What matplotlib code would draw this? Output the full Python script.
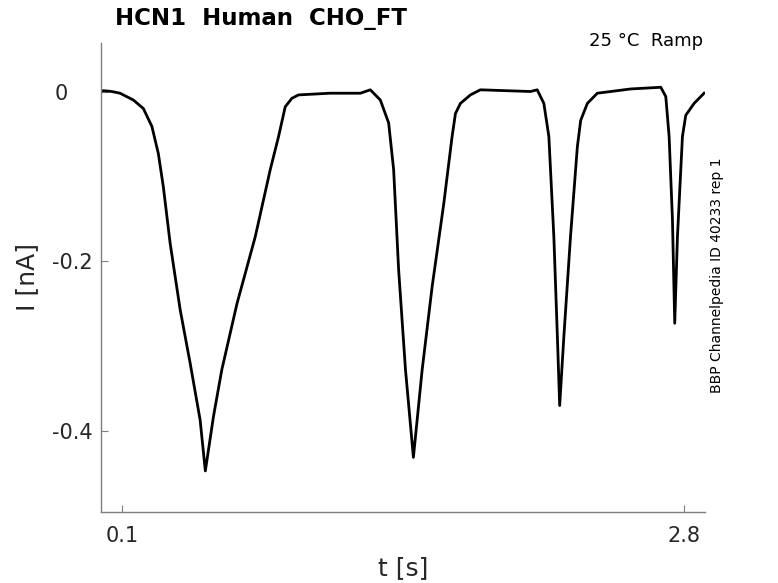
import matplotlib
matplotlib.use("Agg")
import matplotlib.pyplot as plt
from matplotlib.transforms import ScaledTranslation

# Key points of the recorded current trace (time in s, current in nA)
t_s = [0.00, 0.01, 0.05, 0.09, 0.154, 0.202, 0.243, 0.274, 0.298, 0.331, 0.379, 0.427,
       0.475, 0.500, 0.539, 0.579, 0.652, 0.740, 0.812, 0.852, 0.884, 0.916, 0.948,
       1.10, 1.245, 1.293, 1.341, 1.381, 1.405, 1.429, 1.462, 1.500, 1.542, 1.590,
       1.646, 1.686, 1.702, 1.726, 1.774, 1.822, 2.063, 2.095, 2.127, 2.151, 2.175,
       2.192, 2.203, 2.223, 2.255, 2.288, 2.304, 2.336, 2.384, 2.544, 2.689, 2.713,
       2.729, 2.745, 2.756, 2.769, 2.793, 2.809, 2.849, 2.897]
i_nA = [0.000, 0.001, 0.000, -0.002, -0.010, -0.020, -0.041, -0.073, -0.112, -0.179,
        -0.257, -0.320, -0.387, -0.447, -0.383, -0.328, -0.250, -0.171, -0.092, -0.053,
        -0.018, -0.008, -0.004, -0.002, -0.002, 0.002, -0.010, -0.037, -0.092, -0.210,
        -0.328, -0.431, -0.328, -0.230, -0.132, -0.053, -0.026, -0.014, -0.004, 0.002,
        0.000, 0.002, -0.014, -0.053, -0.171, -0.289, -0.370, -0.289, -0.171, -0.065,
        -0.034, -0.014, -0.002, 0.003, 0.005, -0.006, -0.053, -0.151, -0.273, -0.171,
        -0.053, -0.028, -0.014, -0.002]

x_ticks = [0.1, 2.8]
x_tick_labels = ["0.1", "2.8"]
y_ticks = [-0.4, -0.2, 0]
y_tick_labels = ["-0.4", "-0.2", "0"]

fig = plt.figure(figsize=(7.78, 5.83), dpi=100)
ax = fig.add_axes([101.3/778, 1-512/583, (704.7-101.3)/778, (512-43.3)/583])

ax.plot(t_s, i_nA, color="black", linewidth=2.0, solid_joinstyle="round")

ax.set_xlim(0, 2.9)
ax.set_ylim(-0.4954, 0.0568)
ax.set_xticks(x_ticks)
ax.set_xticklabels(x_tick_labels)
ax.set_yticks(y_ticks)
ax.set_yticklabels(y_tick_labels)

for s in ["top", "right"]:
    ax.spines[s].set_visible(False)
for s in ["left", "bottom"]:
    ax.spines[s].set_color("#7f7f7f")
    ax.spines[s].set_linewidth(1.0)

ax.tick_params(axis="both", direction="in", length=5, color="#7f7f7f",
               labelcolor="#262626", labelsize=15)
ax.tick_params(axis="y", pad=6.5)
ax.tick_params(axis="x", pad=10)

# the "0" label sits further left in the reference
for lbl in ax.get_yticklabels():
    if lbl.get_text() == "0":
        lbl.set_transform(lbl.get_transform() +
                          ScaledTranslation(-24/100, 0, fig.dpi_scale_trans))

fig.text(27.5/778, 1-277/583, "I [nA]", rotation=90, ha="center", va="center",
         fontsize=18, color="#262626")
fig.text(403/778, 1-568/583, "t [s]", ha="center", va="center",
         fontsize=18, color="#262626")

fig.text(115/778, 1-18/583, "HCN1  Human  CHO_FT", ha="left", va="center",
         fontsize=16.5, fontweight="bold", color="black")
fig.text(703/778, 1-41/583, "25 °C  Ramp", ha="right", va="center",
         fontsize=13, color="black")
fig.text(716.5/778, 1-275/583, "BBP Channelpedia ID 40233 rep 1", rotation=90,
         ha="center", va="center", fontsize=10, color="black")

fig.savefig("out.png", dpi=100)
